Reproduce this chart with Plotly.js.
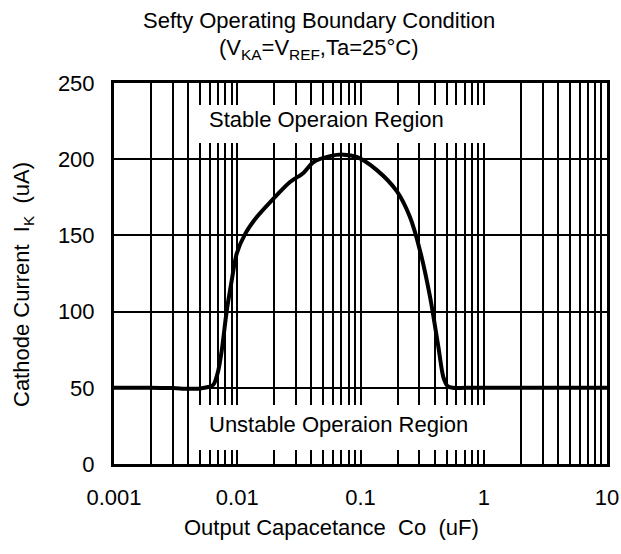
<!DOCTYPE html>
<html>
<head>
<meta charset="utf-8">
<script src="https://cdn.plot.ly/plotly-3.0.1.min.js"></script>
<style>html,body{margin:0;padding:0;background:#fff;}#chart{width:621px;height:554px;}</style>
</head>
<body>
<div id="chart"></div>
<script>
// Output capacitance (uF) and boundary cathode current (uA)
const capacitance = [0.001, 0.002, 0.003, 0.004, 0.005, 0.0058, 0.0064, 0.007, 0.0075, 0.0082, 0.009, 0.0099, 0.0116, 0.0144, 0.0196, 0.0268, 0.0344, 0.0414, 0.0566, 0.0725, 0.0931, 0.135, 0.197, 0.252, 0.304, 0.366, 0.428, 0.47, 0.51, 0.56, 0.7, 1, 3, 10];
const current =     [50,    50,    49.8,  49.4,  49.6,  50.5,   52,     61,    75,     100,    120,   138,    151,    162,    174,    185,    191,    198,    202,    203,    201.5,  193,   179,   162,   140,   110,   77,    57,   51,   50,   50,  50, 50, 50];

const xTickVals = [0.001, 0.01, 0.1, 1, 10];
const xTickText = ['0.001', '0.01', '0.1', '1', '10'];
const yTickVals = [0, 50, 100, 150, 200, 250];

const minorVals = [];
for (let d = -3; d < 1; d++) {
  for (let m = 2; m <= 9; m++) minorVals.push(m * Math.pow(10, d));
}

const FONT = 'Liberation Sans, Arial, sans-serif';
const FS = 22;
const txtFont = {family: FONT, size: FS, color: '#000'};

const trace = {
  x: capacitance, y: current, type: 'scatter', mode: 'lines',
  line: {color: '#000', width: 4, shape: 'spline', smoothing: 0.8},
  hoverinfo: 'skip'
};

const boxStyle = {type: 'rect', xref: 'paper', yref: 'paper', fillcolor: '#fff', line: {width: 0}, layer: 'above'};

// helpers to convert reference pixel positions to paper coordinates
const px = v => (v - 114) / 493;
const py = v => (464 - v) / 381;

const layout = {
  width: 621, height: 554,
  margin: {l: 114, r: 14, t: 83, b: 90},
  paper_bgcolor: '#fff', plot_bgcolor: '#fff',
  showlegend: false,
  font: txtFont,
  xaxis: {
    type: 'log', range: [-3, 1],
    tickmode: 'array', tickvals: xTickVals, ticktext: xTickText,
    showgrid: true, gridcolor: '#000', gridwidth: 2,
    minor: {tickmode: 'array', tickvals: minorVals, showgrid: true, gridcolor: '#000', gridwidth: 2, ticks: ''},
    showline: true, linecolor: '#000', linewidth: 3, mirror: true,
    ticks: '', ticklabelstandoff: 12,
    tickfont: txtFont,
    zeroline: false, fixedrange: true
  },
  yaxis: {
    range: [0, 250],
    tickmode: 'array', tickvals: yTickVals,
    showgrid: true, gridcolor: '#000', gridwidth: 2,
    showline: true, linecolor: '#000', linewidth: 3, mirror: true,
    ticks: '', ticklabelstandoff: 12,
    tickfont: txtFont,
    zeroline: false, fixedrange: true
  },
  shapes: [
    Object.assign({x0: px(192), x1: px(516), y0: py(143), y1: py(105)}, boxStyle),
    Object.assign({x0: px(192), x1: px(516), y0: py(450), y1: py(405)}, boxStyle)
  ],
  annotations: [
    {text: 'Sefty Operating Boundary Condition', xref: 'paper', yref: 'paper', x: px(319), y: py(20), xanchor: 'center', yanchor: 'middle', showarrow: false, font: txtFont},
    {text: '(V<sub>KA</sub>=V<sub>REF</sub>,Ta=25°C)', xref: 'paper', yref: 'paper', x: px(319), y: py(49), xanchor: 'center', yanchor: 'middle', showarrow: false, font: txtFont},
    {text: 'Stable Operaion Region', xref: 'paper', yref: 'paper', x: px(207), y: py(119), xanchor: 'left', yanchor: 'middle', showarrow: false, font: txtFont},
    {text: 'Unstable Operaion Region', xref: 'paper', yref: 'paper', x: px(207), y: py(424), xanchor: 'left', yanchor: 'middle', showarrow: false, font: txtFont},
    {text: 'Output Capacetance  Co  (uF)', xref: 'paper', yref: 'paper', x: px(331), y: py(527), xanchor: 'center', yanchor: 'middle', showarrow: false, font: txtFont},
    {text: 'Cathode Current  I<sub>K</sub>  (uA)', xref: 'paper', yref: 'paper', x: px(23), y: py(285), xanchor: 'center', yanchor: 'middle', textangle: -90, showarrow: false, font: txtFont}
  ]
};

Plotly.newPlot('chart', [trace], layout, {displayModeBar: false, staticPlot: true});
</script>
</body>
</html>
